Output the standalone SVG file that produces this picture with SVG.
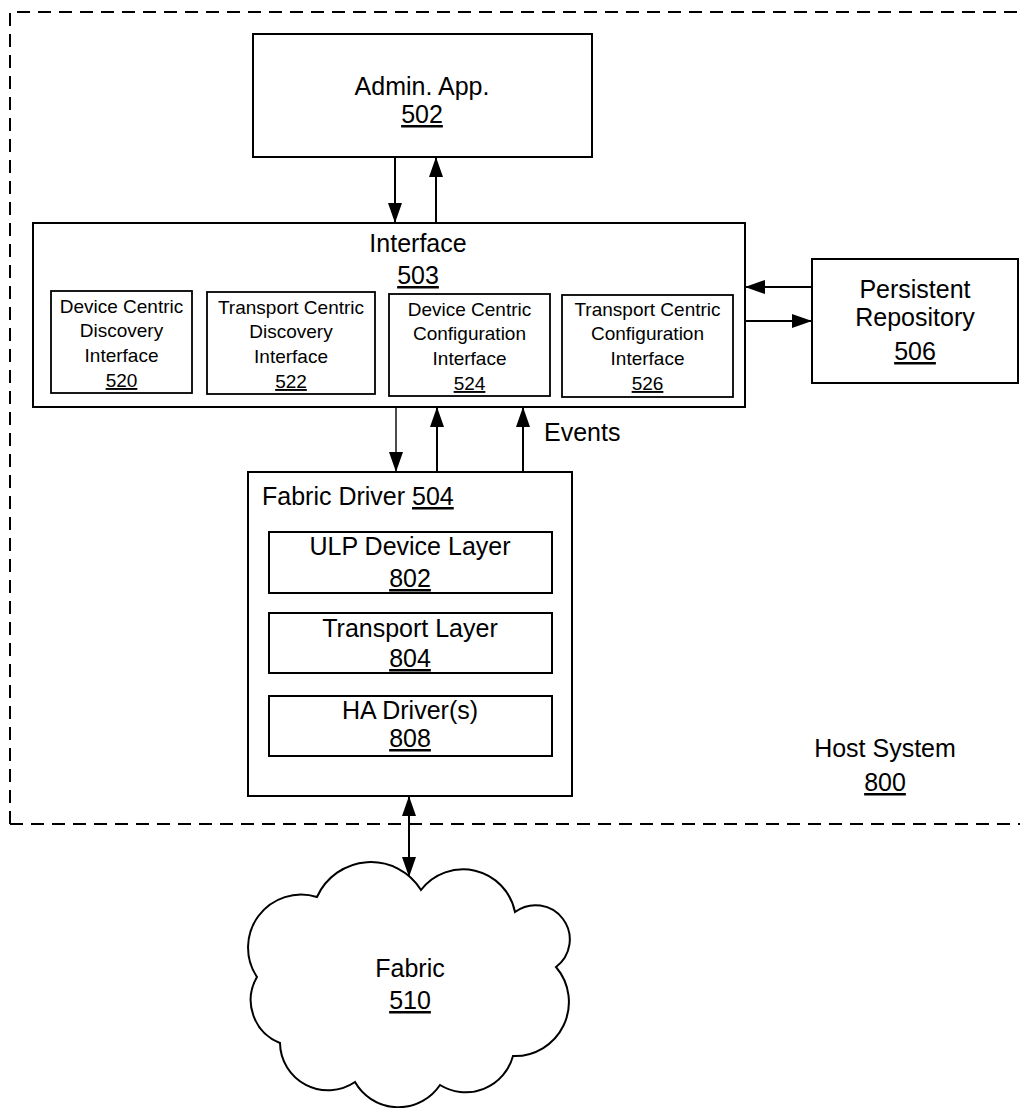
<svg xmlns="http://www.w3.org/2000/svg" width="1020" height="1108" viewBox="0 0 1020 1108">
<style>
  .box { fill: #fff; stroke: #000; stroke-width: 2; }
  .sub { fill: #fff; stroke: #000; stroke-width: 1.8; }
  .t { font-family: "Liberation Sans", Arial, sans-serif; font-size: 25px; fill: #000; text-anchor: middle; }
  .s { font-family: "Liberation Sans", Arial, sans-serif; font-size: 19px; fill: #000; text-anchor: middle; }
  .u { text-decoration: underline; }
  .c { fill: none; stroke: #000; stroke-width: 2; }
  .thin { fill: none; stroke: #000; stroke-width: 1.4; }
  .dash { fill: none; stroke: #000; stroke-width: 2; stroke-dasharray: 13 8; }
</style>
<defs>
  <marker id="ah" markerUnits="userSpaceOnUse" markerWidth="20" markerHeight="14" refX="20" refY="7" orient="auto-start-reverse">
    <path d="M0,0 L20,7 L0,14 z" fill="#000"/>
  </marker>
</defs>
<rect width="1020" height="1108" fill="#fff"/>

<g id="host-system">
  <path class="dash" d="M10,824 L10,12 L1020,12"/>
  <path class="dash" d="M10,824 L1020,824"/>
  <text class="t" x="885" y="757">Host System</text>
  <text class="t u" x="885" y="791">800</text>
</g>

<g id="connectors">
  <line class="c" x1="395" y1="157" x2="395" y2="223" marker-end="url(#ah)"/>
  <line class="c" x1="436" y1="223" x2="436" y2="157" marker-end="url(#ah)"/>
  <line class="c" x1="812" y1="287" x2="745" y2="287" marker-end="url(#ah)"/>
  <line class="c" x1="745" y1="321" x2="812" y2="321" marker-end="url(#ah)"/>
  <line class="thin" x1="396" y1="407" x2="396" y2="472" marker-end="url(#ah)"/>
  <line class="c" x1="437" y1="472" x2="437" y2="407" marker-end="url(#ah)"/>
  <line class="c" x1="523" y1="472" x2="523" y2="407" marker-end="url(#ah)"/>
  <line class="c" x1="409" y1="796" x2="409" y2="877" marker-start="url(#ah)" marker-end="url(#ah)"/>
  <text class="t" x="544" y="441" style="text-anchor:start">Events</text>
</g>

<g id="admin-app">
  <rect class="box" x="253" y="34" width="339" height="123"/>
  <text class="t" x="422" y="95">Admin. App.</text>
  <text class="t u" x="422" y="123">502</text>
</g>

<g id="interface">
  <rect class="box" x="33" y="223" width="712" height="184"/>
  <text class="t" x="418" y="252">Interface</text>
  <text class="t u" x="418" y="284">503</text>
</g>

<g id="dev-disc-520">
  <rect class="sub" x="51" y="291" width="141" height="102"/>
  <text class="s" x="121.5" y="313">Device Centric</text>
  <text class="s" x="121.5" y="337">Discovery</text>
  <text class="s" x="121.5" y="362">Interface</text>
  <text class="s u" x="121.5" y="387">520</text>
</g>

<g id="trans-disc-522">
  <rect class="sub" x="207" y="292" width="168" height="102"/>
  <text class="s" x="291" y="314">Transport Centric</text>
  <text class="s" x="291" y="338">Discovery</text>
  <text class="s" x="291" y="363">Interface</text>
  <text class="s u" x="291" y="388">522</text>
</g>

<g id="dev-conf-524">
  <rect class="sub" x="389" y="294" width="161" height="102"/>
  <text class="s" x="469.5" y="316">Device Centric</text>
  <text class="s" x="469.5" y="340">Configuration</text>
  <text class="s" x="469.5" y="365">Interface</text>
  <text class="s u" x="469.5" y="390">524</text>
</g>

<g id="trans-conf-526">
  <rect class="sub" x="562" y="295" width="171" height="102"/>
  <text class="s" x="647.5" y="316">Transport Centric</text>
  <text class="s" x="647.5" y="340">Configuration</text>
  <text class="s" x="647.5" y="365">Interface</text>
  <text class="s u" x="647.5" y="390">526</text>
</g>

<g id="persistent-repository">
  <rect class="box" x="812" y="259" width="206" height="124"/>
  <text class="t" x="915" y="298">Persistent</text>
  <text class="t" x="915" y="326">Repository</text>
  <text class="t u" x="915" y="360">506</text>
</g>

<g id="fabric-driver">
  <rect class="box" x="248" y="472" width="324" height="324"/>
  <text class="t" x="262" y="505" style="text-anchor:start">Fabric Driver <tspan class="u">504</tspan></text>
</g>

<g id="ulp-802">
  <rect class="box" x="269" y="532" width="283" height="61"/>
  <text class="t" x="410" y="555">ULP Device Layer</text>
  <text class="t u" x="410" y="587">802</text>
</g>

<g id="transport-804">
  <rect class="box" x="269" y="613" width="283" height="60"/>
  <text class="t" x="410" y="637">Transport Layer</text>
  <text class="t u" x="410" y="667">804</text>
</g>

<g id="ha-808">
  <rect class="box" x="269" y="696" width="283" height="60"/>
  <text class="t" x="410" y="719">HA Driver(s)</text>
  <text class="t u" x="410" y="747">808</text>
</g>

<g id="fabric-510">
  <path class="box" d="M421,890 A53,53 0 0 1 515,912 A34,34 0 0 1 556,967 A54,54 0 0 1 513,1056 A49,49 0 0 1 440,1085 A50,50 0 0 1 355,1082 A48,48 0 0 1 280,1043 A46,46 0 0 1 257,977 A53,53 0 0 1 317,897 A59,59 0 0 1 421,890 Z"/>
  <text class="t" x="410" y="977">Fabric</text>
  <text class="t u" x="410" y="1009">510</text>
</g>
</svg>
